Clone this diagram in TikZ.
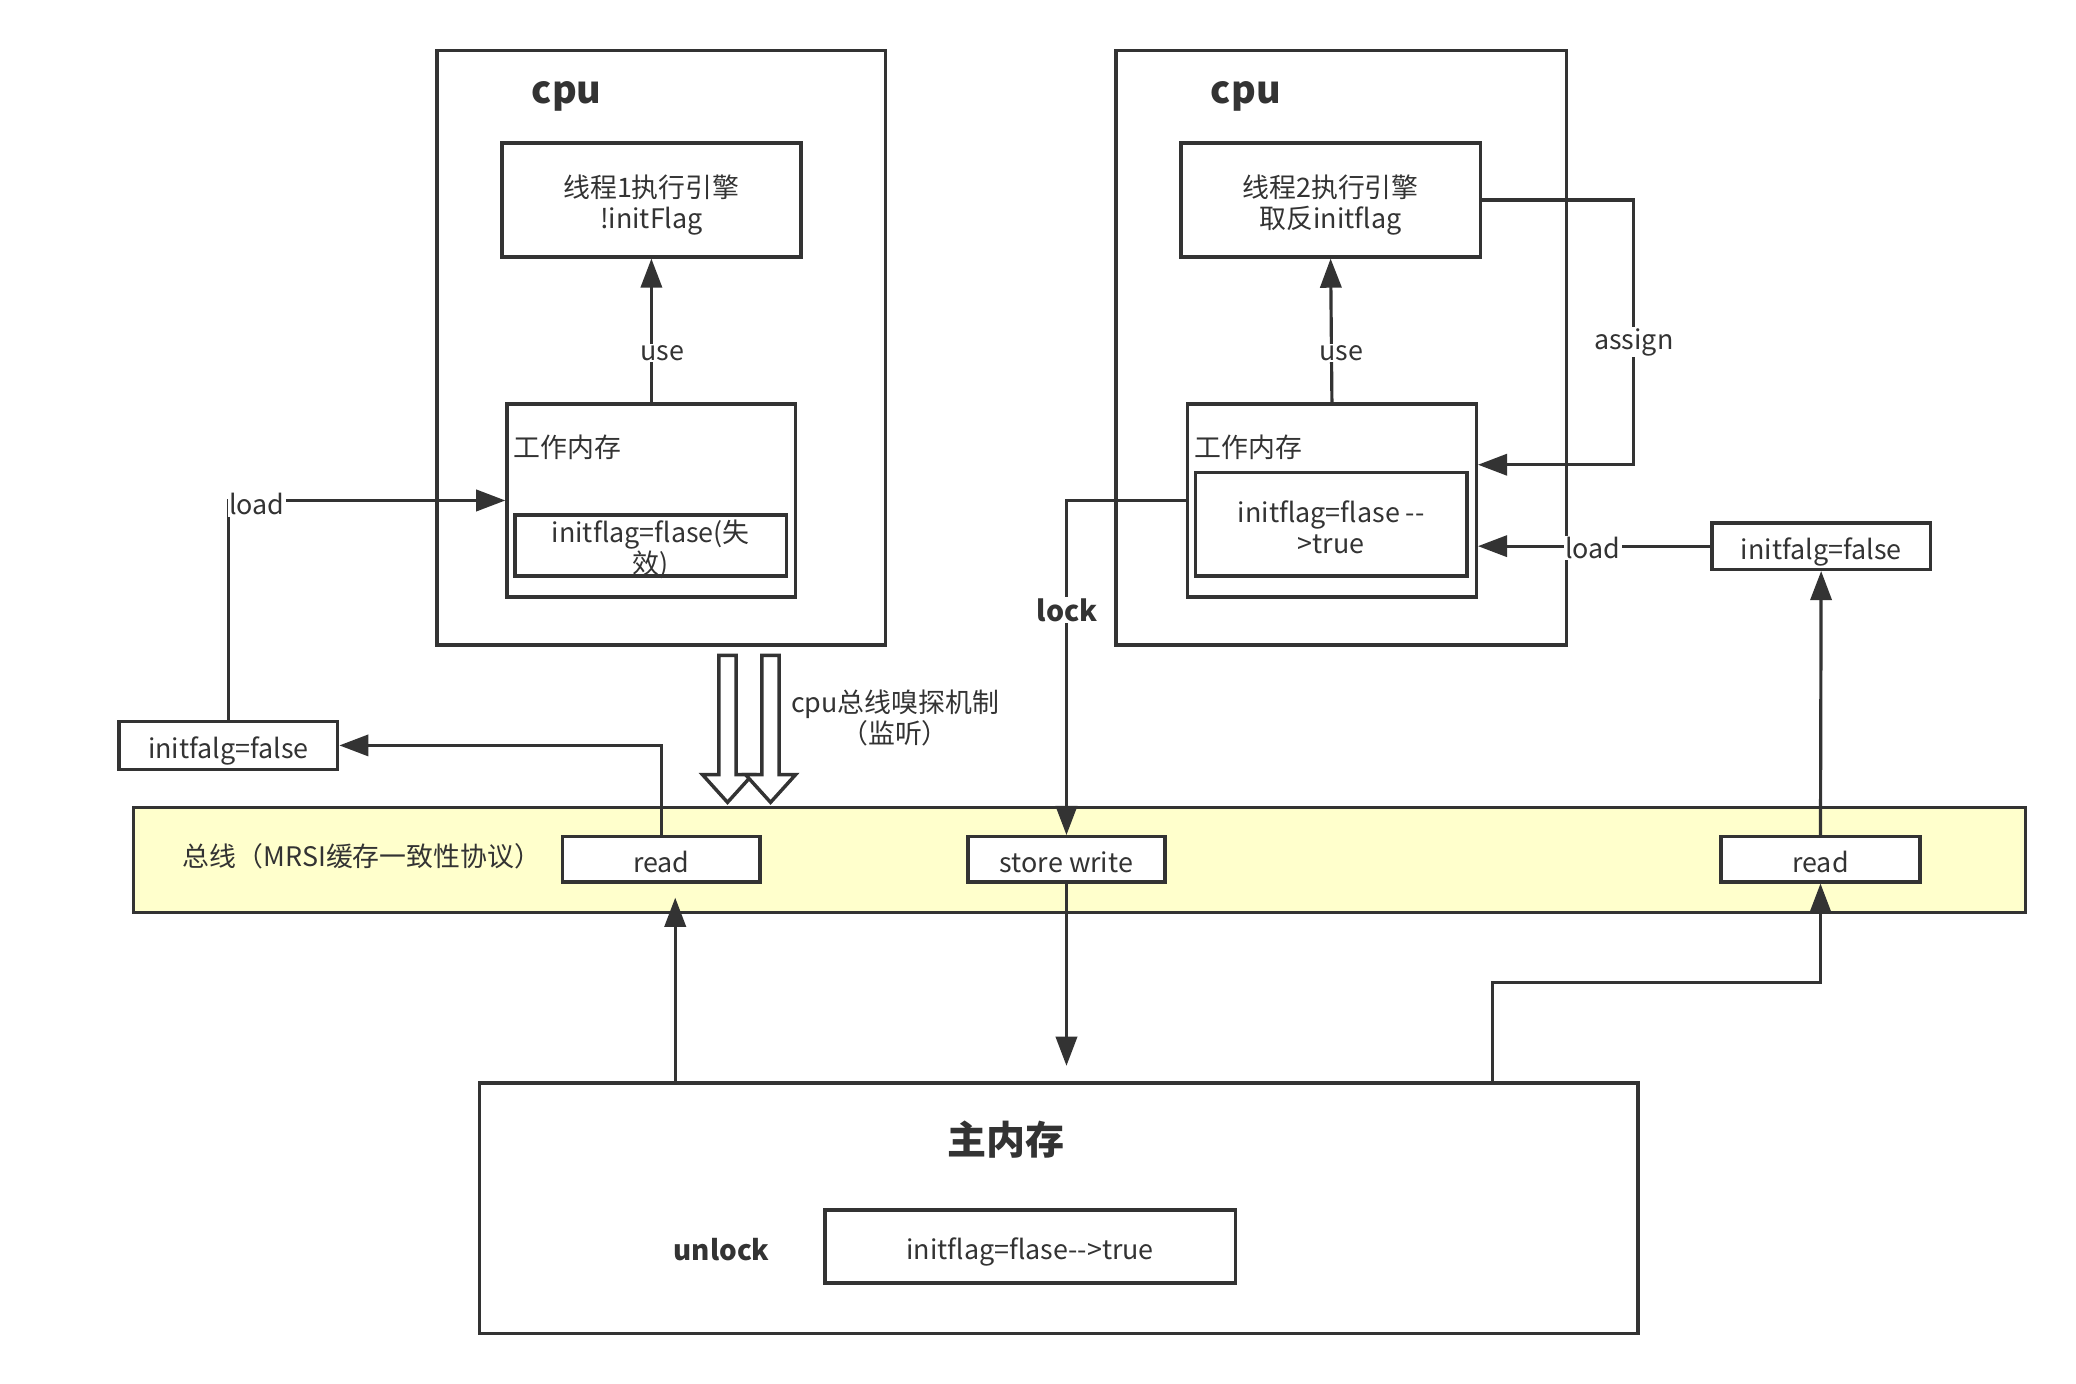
\documentclass[tikz,border=0pt]{standalone}
\usepackage{fontspec}
\newfontfamily\cjk{Noto Sans CJK SC}
\usetikzlibrary{arrows.meta}
\definecolor{ink}{HTML}{333333}
\definecolor{busfill}{HTML}{FFFFCC}
\tikzset{
	box/.style={draw=ink, line width=2.6pt, inner sep=0pt, text=ink, align=center, font=\cjk\fontsize{20.3}{23.5}\selectfont},
	oneline/.style={text height=21pt, text depth=1pt},
	txt/.style={text=ink, inner sep=1pt, align=center, font=\cjk\fontsize{20.3}{23.5}\selectfont},
	big/.style={text=ink, inner sep=0pt, font=\cjk\bfseries\fontsize{28.5}{32}\selectfont},
	tag/.style={txt, fill=white},
	link/.style={draw=ink, line width=2.4pt, -{Triangle[length=22pt,width=16pt]}},
	hollow/.style={draw=ink, line width=2.6pt, fill=white, line join=miter},
}
\begin{document}
\begin{tikzpicture}[x=1pt,y=-1pt]
				\useasboundingbox (0,0) rectangle (1568,1045);
				% 两个cpu
				\node[box, minimum width=339pt, minimum height=449pt] (cpuA) at (499.5,262.5) {};
				\node[box, minimum width=340pt, minimum height=449pt] (cpuB) at (1013,262.5) {};
				\node[big] (cpuAt) at (428,73) {cpu};
				\node[big] (cpuBt) at (941,73) {cpu};
				% 执行引擎
				\node[box, minimum width=226pt, minimum height=86pt] (engA) at (492,151) {};
				\node[box, minimum width=226pt, minimum height=86pt] (engB) at (1005,151) {};
				\node[txt] (engAt) at (492,155) {线程1执行引擎\\!initFlag};
				\node[txt] (engBt) at (1005,155) {线程2执行引擎\\取反initflag};
				% 工作内存
				\node[box, minimum width=218pt, minimum height=146pt] (wmA) at (492,378) {};
				\node[box, minimum width=218pt, minimum height=146pt] (wmB) at (1006,378) {};
				\node[txt, anchor=west] (wmAt) at (387,338) {工作内存};
				\node[txt, anchor=west] (wmBt) at (901,338) {工作内存};
				\node[box, minimum width=205pt, minimum height=46pt] (valA) at (491.5,412) {};
				\node[box, minimum width=205pt, minimum height=78pt] (valB) at (1005.5,396) {};
				\node[txt] (valAt) at (491.5,415) {initflag=flase(失\\效)};
				\node[txt] (valBt) at (1005.5,398.5) {initflag=flase --\\>true};
				% 副本
				\node[box, oneline, minimum width=165pt, minimum height=36pt] (flagA) at (172.5,563) {initfalg=false};
				\node[box, oneline, minimum width=165pt, minimum height=35pt] (flagB) at (1375.5,412.5) {initfalg=false};
				% 总线
				\node[box, fill=busfill, minimum width=1429pt, minimum height=79pt] (bus) at (815.5,649.5) {};
				\node[txt, anchor=west] (bust) at (137,647) {总线（MRSI缓存一致性协议）};
				\node[box, oneline, fill=white, minimum width=149pt, minimum height=34pt] (readA) at (499.5,649) {read};
				\node[box, oneline, fill=white, minimum width=149pt, minimum height=34pt] (store) at (805.5,649) {store write};
				\node[box, oneline, fill=white, minimum width=150pt, minimum height=34pt] (readB) at (1375,649) {read};
				% 主内存
				\node[box, minimum width=875pt, minimum height=189pt] (mem) at (799.5,912.5) {};
				\node[big, font=\cjk\bfseries\fontsize{29.5}{33}\selectfont] (memt) at (760,861) {主内存};
				\node[txt, font=\cjk\bfseries\fontsize{21}{24}\selectfont] (unlock) at (545,944) {unlock};
				\node[box, oneline, minimum width=310pt, minimum height=55pt] (memval) at (778,941.5) {initflag=flase-->true};
				% 嗅探
				\foreach \x in {549.5,582}
				\draw[hollow] (\x-6.5,495) -- (\x+6.5,495) -- (\x+6.5,585) -- (\x+19,585) -- (\x,606) -- (\x-19,585) -- (\x-6.5,585) -- cycle;
				\node[txt] (sniff) at (676,542.5) {cpu总线嗅探机制\\（监听）};
				% 连线
				\coordinate (rA) at (510,678);
				\coordinate (sW) at (805.5,805);
				\coordinate (rB) at (1127,742);
				\coordinate (asg) at (1234,351);
				\draw[link] (wmA.north) -- (engA.south);
				\draw[link] (wmB.north) -- (engB.south);
				\draw[link] (flagA.north) |- (wmA.west);
				\draw[link] (readA.north) |- (flagA.east);
				\draw[link] (wmB.west) -| (store.north);
				\draw[link] (store.south) -- (sW);
				\draw[link] (rA |- mem.north) -- (rA);
				\draw[link] (rB |- mem.north) -- (rB) -| (readB.south);
				\draw[link] (readB.north) -- (flagB.south);
				\draw[link] (flagB.west) -- (flagB.west -| wmB.east);
				\draw[link] (engB.east) -| (asg) -- (asg -| wmB.east);
				% 标签
				\node[tag] (useA) at (500,266.5) {use};
				\node[tag] (useB) at (1013,266.5) {use};
				\node[tag] (loadA) at (194,381) {load};
				\node[tag] (loadB) at (1203,414) {load};
				\node[tag] (assign) at (1234,258.5) {assign};
				\node[tag, font=\cjk\bfseries\fontsize{21.5}{24}\selectfont] (lock) at (806,461) {lock};
\end{tikzpicture}
\end{document}
